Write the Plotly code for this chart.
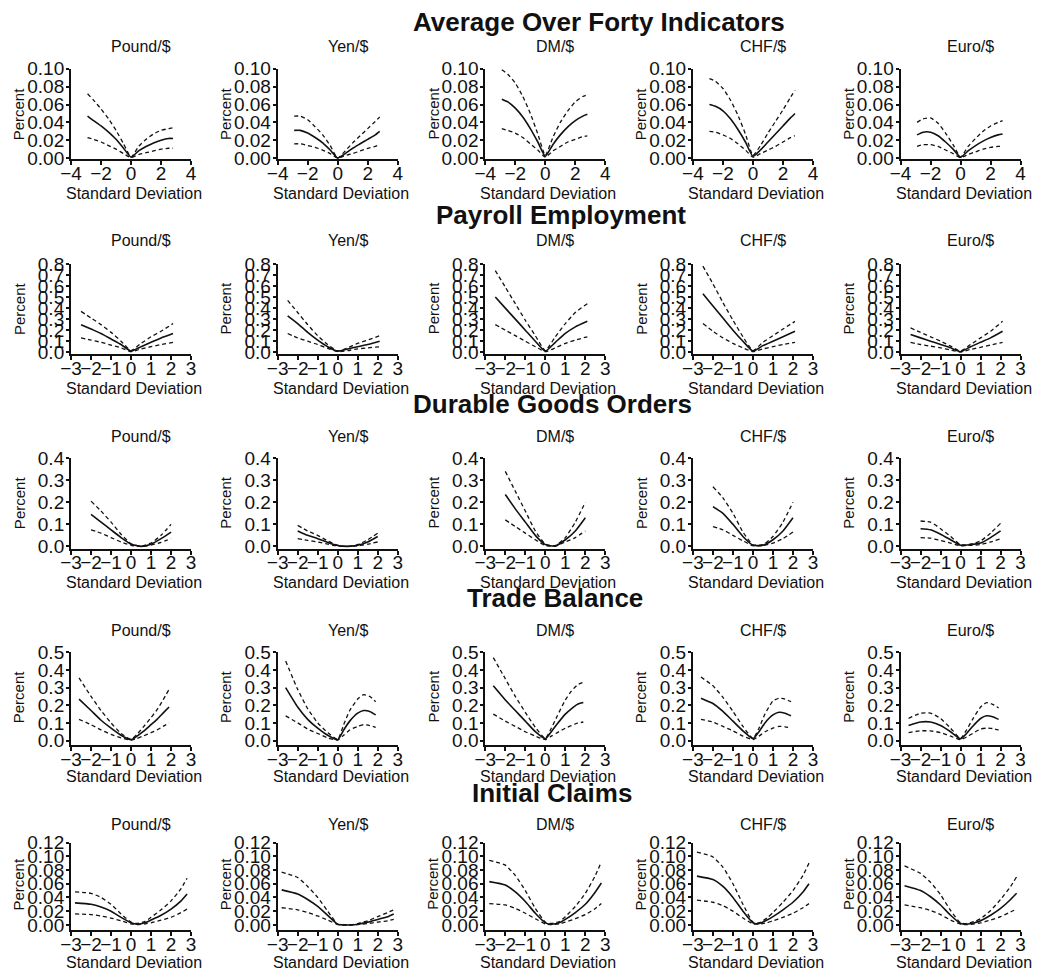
import plotly.graph_objects as go

W, H = 1064, 979

sections = ["Average Over Forty Indicators", "Payroll Employment",
            "Durable Goods Orders", "Trade Balance", "Initial Claims"]
currencies = ["Pound/$", "Yen/$", "DM/$", "CHF/$", "Euro/$"]

# ---------------- Row 1: Average Over Forty Indicators ----------------
avg_x = [-2.9, -2.5, -2, -1.5, -1, -0.5, 0, 0.5, 1, 1.5, 2, 2.5, 2.8]
avg_pound_mid = [0.047, 0.042, 0.036, 0.029, 0.021, 0.011, 0.001, 0.008, 0.013, 0.017, 0.020, 0.022, 0.022]
avg_pound_hi = [0.072, 0.065, 0.055, 0.044, 0.031, 0.016, 0.001, 0.013, 0.021, 0.027, 0.031, 0.033, 0.034]
avg_pound_lo = [0.023, 0.021, 0.018, 0.014, 0.010, 0.005, 0.0005, 0.004, 0.006, 0.008, 0.010, 0.011, 0.011]
avg_yen_mid = [0.031, 0.031, 0.028, 0.023, 0.017, 0.009, 0.0, 0.005, 0.011, 0.016, 0.021, 0.026, 0.030]
avg_yen_hi = [0.047, 0.047, 0.043, 0.035, 0.026, 0.014, 0.0, 0.008, 0.017, 0.025, 0.033, 0.041, 0.046]
avg_yen_lo = [0.016, 0.016, 0.014, 0.012, 0.009, 0.005, 0.0, 0.003, 0.005, 0.008, 0.011, 0.013, 0.015]
avg_dm_mid = [0.066, 0.063, 0.056, 0.046, 0.033, 0.018, 0.002, 0.015, 0.026, 0.035, 0.042, 0.047, 0.049]
avg_dm_hi = [0.099, 0.094, 0.084, 0.069, 0.050, 0.027, 0.003, 0.023, 0.040, 0.053, 0.063, 0.069, 0.071]
avg_dm_lo = [0.033, 0.031, 0.028, 0.023, 0.016, 0.009, 0.001, 0.008, 0.013, 0.018, 0.021, 0.024, 0.025]
avg_chf_mid = [0.060, 0.058, 0.053, 0.044, 0.032, 0.018, 0.002, 0.009, 0.018, 0.027, 0.036, 0.045, 0.050]
avg_chf_hi = [0.089, 0.086, 0.078, 0.065, 0.048, 0.027, 0.003, 0.014, 0.028, 0.041, 0.054, 0.068, 0.076]
avg_chf_lo = [0.030, 0.029, 0.026, 0.022, 0.016, 0.009, 0.001, 0.005, 0.009, 0.013, 0.018, 0.023, 0.025]
avg_euro_mid = [0.026, 0.029, 0.029, 0.025, 0.018, 0.010, 0.001, 0.008, 0.014, 0.019, 0.023, 0.026, 0.027]
avg_euro_hi = [0.040, 0.044, 0.045, 0.039, 0.028, 0.015, 0.001, 0.013, 0.022, 0.030, 0.036, 0.040, 0.042]
avg_euro_lo = [0.013, 0.015, 0.015, 0.013, 0.009, 0.005, 0.0005, 0.004, 0.007, 0.010, 0.012, 0.013, 0.013]

# ---------------- Row 2: Payroll Employment ----------------
pay_x = [-2.5, -2, -1.5, -1, -0.5, 0, 0.5, 1, 1.5, 2.1]
pay_pound_mid = [0.25, 0.21, 0.17, 0.12, 0.07, 0.01, 0.05, 0.09, 0.13, 0.17]
pay_pound_hi = [0.37, 0.31, 0.25, 0.18, 0.10, 0.015, 0.08, 0.14, 0.19, 0.26]
pay_pound_lo = [0.13, 0.11, 0.09, 0.065, 0.04, 0.005, 0.03, 0.05, 0.07, 0.09]
pay_yen_mid = [0.33, 0.26, 0.18, 0.11, 0.05, 0.01, 0.03, 0.05, 0.07, 0.10]
pay_yen_hi = [0.47, 0.36, 0.25, 0.15, 0.07, 0.01, 0.04, 0.08, 0.11, 0.15]
pay_yen_lo = [0.17, 0.13, 0.10, 0.07, 0.035, 0.005, 0.015, 0.03, 0.04, 0.05]
pay_dm_mid = [0.50, 0.40, 0.30, 0.20, 0.10, 0.01, 0.09, 0.17, 0.23, 0.28]
pay_dm_hi = [0.74, 0.59, 0.44, 0.29, 0.15, 0.015, 0.14, 0.26, 0.36, 0.44]
pay_dm_lo = [0.25, 0.20, 0.15, 0.10, 0.05, 0.005, 0.04, 0.08, 0.11, 0.14]
pay_chf_mid = [0.53, 0.42, 0.31, 0.20, 0.10, 0.01, 0.06, 0.10, 0.14, 0.19]
pay_chf_hi = [0.78, 0.62, 0.45, 0.29, 0.14, 0.015, 0.09, 0.15, 0.21, 0.28]
pay_chf_lo = [0.26, 0.19, 0.13, 0.08, 0.04, 0.005, 0.03, 0.05, 0.07, 0.09]
pay_euro_mid = [0.16, 0.13, 0.10, 0.07, 0.04, 0.005, 0.05, 0.09, 0.13, 0.19]
pay_euro_hi = [0.22, 0.18, 0.14, 0.10, 0.055, 0.01, 0.07, 0.13, 0.19, 0.28]
pay_euro_lo = [0.09, 0.07, 0.055, 0.04, 0.02, 0.003, 0.025, 0.045, 0.065, 0.09]

# ---------------- Row 3: Durable Goods Orders ----------------
dur_x = [-2, -1.5, -1, -0.5, 0, 0.5, 1, 1.5, 2]
dur_pound_mid = [0.145, 0.11, 0.075, 0.04, 0.01, 0.0, 0.01, 0.035, 0.065]
dur_pound_hi = [0.205, 0.16, 0.11, 0.055, 0.012, 0.001, 0.015, 0.05, 0.10]
dur_pound_lo = [0.075, 0.06, 0.04, 0.02, 0.005, 0.0, 0.006, 0.018, 0.035]
dur_yen_mid = [0.07, 0.05, 0.035, 0.018, 0.004, 0.0, 0.005, 0.02, 0.045]
dur_yen_hi = [0.095, 0.07, 0.05, 0.025, 0.005, 0.0, 0.008, 0.03, 0.06]
dur_yen_lo = [0.035, 0.027, 0.02, 0.01, 0.002, 0.0, 0.003, 0.01, 0.02]
dur_dm_mid = [0.235, 0.17, 0.11, 0.05, 0.008, 0.002, 0.03, 0.07, 0.13]
dur_dm_hi = [0.34, 0.25, 0.16, 0.07, 0.01, 0.003, 0.04, 0.11, 0.20]
dur_dm_lo = [0.12, 0.09, 0.06, 0.03, 0.004, 0.001, 0.02, 0.04, 0.07]
dur_chf_mid = [0.18, 0.15, 0.10, 0.045, 0.005, 0.005, 0.03, 0.07, 0.13]
dur_chf_hi = [0.27, 0.22, 0.15, 0.065, 0.007, 0.008, 0.045, 0.11, 0.20]
dur_chf_lo = [0.09, 0.075, 0.05, 0.025, 0.003, 0.003, 0.015, 0.035, 0.065]
dur_euro_mid = [0.08, 0.075, 0.055, 0.03, 0.005, 0.008, 0.015, 0.04, 0.07]
dur_euro_hi = [0.115, 0.11, 0.08, 0.045, 0.007, 0.01, 0.025, 0.06, 0.105]
dur_euro_lo = [0.04, 0.037, 0.027, 0.015, 0.003, 0.005, 0.008, 0.02, 0.035]

# ---------------- Row 4: Trade Balance ----------------
trd_x = [-2.6, -2, -1.5, -1, -0.5, 0, 0.3, 0.6, 1, 1.3, 1.6, 1.9]
trd_pound_mid = [0.235, 0.17, 0.115, 0.07, 0.03, 0.005, 0.025, 0.05, 0.09, 0.12, 0.155, 0.19]
trd_pound_hi = [0.355, 0.25, 0.17, 0.10, 0.04, 0.007, 0.035, 0.075, 0.13, 0.175, 0.23, 0.29]
trd_pound_lo = [0.12, 0.09, 0.06, 0.035, 0.015, 0.003, 0.012, 0.025, 0.045, 0.06, 0.08, 0.10]
trd_yen_mid = [0.30, 0.19, 0.12, 0.07, 0.03, 0.005, 0.06, 0.11, 0.155, 0.17, 0.165, 0.145]
trd_yen_hi = [0.45, 0.29, 0.18, 0.10, 0.045, 0.007, 0.09, 0.17, 0.235, 0.26, 0.25, 0.22]
trd_yen_lo = [0.14, 0.10, 0.065, 0.04, 0.015, 0.003, 0.03, 0.06, 0.08, 0.09, 0.085, 0.075]
trd_dm_mid = [0.31, 0.23, 0.17, 0.11, 0.05, 0.01, 0.05, 0.095, 0.15, 0.18, 0.205, 0.215]
trd_dm_hi = [0.47, 0.35, 0.25, 0.16, 0.075, 0.012, 0.07, 0.14, 0.23, 0.28, 0.315, 0.33]
trd_dm_lo = [0.15, 0.11, 0.08, 0.05, 0.025, 0.005, 0.025, 0.045, 0.07, 0.085, 0.098, 0.105]
trd_chf_mid = [0.24, 0.21, 0.165, 0.11, 0.055, 0.01, 0.05, 0.10, 0.145, 0.16, 0.155, 0.14]
trd_chf_hi = [0.36, 0.31, 0.245, 0.165, 0.08, 0.012, 0.07, 0.15, 0.225, 0.24, 0.235, 0.22]
trd_chf_lo = [0.12, 0.105, 0.08, 0.055, 0.025, 0.005, 0.025, 0.05, 0.07, 0.08, 0.078, 0.07]
trd_euro_mid = [0.085, 0.105, 0.105, 0.085, 0.05, 0.01, 0.04, 0.08, 0.125, 0.14, 0.135, 0.12]
trd_euro_hi = [0.125, 0.155, 0.155, 0.125, 0.07, 0.012, 0.06, 0.12, 0.19, 0.215, 0.205, 0.185]
trd_euro_lo = [0.045, 0.055, 0.055, 0.045, 0.025, 0.005, 0.02, 0.04, 0.065, 0.07, 0.068, 0.06]

# ---------------- Row 5: Initial Claims ----------------
clm_x = [-2.8, -2, -1.5, -1, -0.5, 0, 0.3, 0.7, 1, 1.5, 2, 2.5, 2.8]
clm_pound_mid = [0.032, 0.030, 0.026, 0.020, 0.011, 0.003, 0.001, 0.003, 0.007, 0.014, 0.023, 0.035, 0.045]
clm_pound_hi = [0.048, 0.046, 0.040, 0.030, 0.016, 0.004, 0.002, 0.005, 0.011, 0.022, 0.035, 0.053, 0.068]
clm_pound_lo = [0.016, 0.015, 0.013, 0.010, 0.006, 0.0015, 0.0005, 0.0015, 0.003, 0.007, 0.011, 0.018, 0.023]
clm_yen_mid = [0.051, 0.045, 0.037, 0.027, 0.014, 0.001, 0.0, 0.0, 0.001, 0.004, 0.008, 0.012, 0.016]
clm_yen_hi = [0.077, 0.069, 0.056, 0.040, 0.020, 0.001, 0.0, 0.0, 0.002, 0.006, 0.012, 0.018, 0.022]
clm_yen_lo = [0.025, 0.022, 0.018, 0.013, 0.007, 0.0005, 0.0, 0.0, 0.0005, 0.002, 0.004, 0.006, 0.008]
clm_dm_mid = [0.063, 0.058, 0.048, 0.034, 0.017, 0.003, 0.001, 0.003, 0.008, 0.018, 0.030, 0.048, 0.061]
clm_dm_hi = [0.094, 0.087, 0.072, 0.050, 0.024, 0.004, 0.002, 0.005, 0.012, 0.027, 0.046, 0.072, 0.092]
clm_dm_lo = [0.031, 0.029, 0.024, 0.017, 0.009, 0.0015, 0.0005, 0.0015, 0.004, 0.009, 0.015, 0.024, 0.031]
clm_chf_mid = [0.071, 0.066, 0.056, 0.040, 0.020, 0.003, 0.002, 0.007, 0.012, 0.022, 0.033, 0.048, 0.060]
clm_chf_hi = [0.106, 0.099, 0.084, 0.060, 0.030, 0.004, 0.003, 0.010, 0.018, 0.033, 0.050, 0.072, 0.090]
clm_chf_lo = [0.036, 0.033, 0.028, 0.020, 0.010, 0.0015, 0.001, 0.003, 0.006, 0.011, 0.017, 0.025, 0.031]
clm_euro_mid = [0.057, 0.050, 0.041, 0.029, 0.014, 0.002, 0.001, 0.003, 0.006, 0.014, 0.024, 0.037, 0.046]
clm_euro_hi = [0.086, 0.075, 0.062, 0.044, 0.021, 0.003, 0.002, 0.005, 0.009, 0.021, 0.037, 0.056, 0.070]
clm_euro_lo = [0.029, 0.025, 0.021, 0.015, 0.007, 0.001, 0.0005, 0.0015, 0.003, 0.007, 0.012, 0.019, 0.023]

# ---------------- Tick labels ----------------
x_ticks_wide = [-4, -2, 0, 2, 4]
x_ticks_narrow = [-3, -2, -1, 0, 1, 2, 3]
avg_yticks = [0.0, 0.02, 0.04, 0.06, 0.08, 0.10]
avg_ylabels = ["0.00", "0.02", "0.04", "0.06", "0.08", "0.10"]
pay_yticks = [0.0, 0.1, 0.2, 0.3, 0.4, 0.5, 0.6, 0.7, 0.8]
pay_ylabels = ["0.0", "0.1", "0.2", "0.3", "0.4", "0.5", "0.6", "0.7", "0.8"]
dur_yticks = [0.0, 0.1, 0.2, 0.3, 0.4]
dur_ylabels = ["0.0", "0.1", "0.2", "0.3", "0.4"]
trd_yticks = [0.0, 0.1, 0.2, 0.3, 0.4, 0.5]
trd_ylabels = ["0.0", "0.1", "0.2", "0.3", "0.4", "0.5"]
clm_yticks = [0.0, 0.02, 0.04, 0.06, 0.08, 0.10, 0.12]
clm_ylabels = ["0.00", "0.02", "0.04", "0.06", "0.08", "0.10", "0.12"]

rows = [
    dict(x=avg_x, xr=[-4, 4], xt=x_ticks_wide, ymin=-0.0015, ymax=0.10, yt=avg_yticks, yl=avg_ylabels,
         panels=[(avg_pound_mid, avg_pound_hi, avg_pound_lo), (avg_yen_mid, avg_yen_hi, avg_yen_lo),
                 (avg_dm_mid, avg_dm_hi, avg_dm_lo), (avg_chf_mid, avg_chf_hi, avg_chf_lo),
                 (avg_euro_mid, avg_euro_hi, avg_euro_lo)]),
    dict(x=pay_x, xr=[-3, 3], xt=x_ticks_narrow, ymin=-0.02, ymax=0.8, yt=pay_yticks, yl=pay_ylabels,
         panels=[(pay_pound_mid, pay_pound_hi, pay_pound_lo), (pay_yen_mid, pay_yen_hi, pay_yen_lo),
                 (pay_dm_mid, pay_dm_hi, pay_dm_lo), (pay_chf_mid, pay_chf_hi, pay_chf_lo),
                 (pay_euro_mid, pay_euro_hi, pay_euro_lo)]),
    dict(x=dur_x, xr=[-3, 3], xt=x_ticks_narrow, ymin=-0.01, ymax=0.4, yt=dur_yticks, yl=dur_ylabels,
         panels=[(dur_pound_mid, dur_pound_hi, dur_pound_lo), (dur_yen_mid, dur_yen_hi, dur_yen_lo),
                 (dur_dm_mid, dur_dm_hi, dur_dm_lo), (dur_chf_mid, dur_chf_hi, dur_chf_lo),
                 (dur_euro_mid, dur_euro_hi, dur_euro_lo)]),
    dict(x=trd_x, xr=[-3, 3], xt=x_ticks_narrow, ymin=-0.025, ymax=0.5, yt=trd_yticks, yl=trd_ylabels,
         panels=[(trd_pound_mid, trd_pound_hi, trd_pound_lo), (trd_yen_mid, trd_yen_hi, trd_yen_lo),
                 (trd_dm_mid, trd_dm_hi, trd_dm_lo), (trd_chf_mid, trd_chf_hi, trd_chf_lo),
                 (trd_euro_mid, trd_euro_hi, trd_euro_lo)]),
    dict(x=clm_x, xr=[-3, 3], xt=x_ticks_narrow, ymin=-0.008, ymax=0.12, yt=clm_yticks, yl=clm_ylabels,
         panels=[(clm_pound_mid, clm_pound_hi, clm_pound_lo), (clm_yen_mid, clm_yen_hi, clm_yen_lo),
                 (clm_dm_mid, clm_dm_hi, clm_dm_lo), (clm_chf_mid, clm_chf_hi, clm_chf_lo),
                 (clm_euro_mid, clm_euro_hi, clm_euro_lo)]),
]

# ---------------- Layout geometry (pixels) ----------------
col_left = [61, 271, 482, 693, 904]
col_w = 122
row_top = [60, 259, 457, 655, 849]      # pixel of the top tick
row_zero = [151, 349, 547, 745, 933]    # pixel of the zero tick
title_y = [12, 209, 402, 600, 799]
title_x = [598, 559, 550, 553, 550]
sub_y = [37, 235, 435, 633, 831]
sd_y = [187, 386, 584, 782, 971]

FONT = "Liberation Sans, Arial, Helvetica, sans-serif"
INK = "#111111"


def px_x(p):
    return p / W


def px_y(p):
    return 1 - p / H


fig = go.Figure()
layout = dict(
    width=W, height=H, margin=dict(l=0, r=0, t=0, b=0),
    paper_bgcolor="white", plot_bgcolor="white", showlegend=False,
    font=dict(family=FONT, color=INK),
)
annotations = []

n = 0
for r, row in enumerate(rows):
    annotations.append(dict(text="<b>%s</b>" % sections[r], xref="paper", yref="paper",
                            x=px_x(title_x[r]), y=px_y(title_y[r]), xanchor="center", yanchor="middle",
                            showarrow=False, font=dict(size=26, family=FONT, color=INK)))
    top = row_top[r]
    zero = row_zero[r]
    bot = zero + (zero - top) * (-row["ymin"] / row["ymax"])
    for c in range(5):
        n += 1
        xs = "" if n == 1 else str(n)
        mid, hi, lo = row["panels"][c]
        for ys, dash, wdt in ((hi, "4px,3px", 1.3), (mid, "solid", 1.6), (lo, "4px,3px", 1.3)):
            fig.add_trace(go.Scatter(x=row["x"], y=ys, mode="lines", xaxis="x" + xs, yaxis="y" + xs,
                                     line=dict(color=INK, width=wdt, dash=dash, shape="spline", smoothing=0.5),
                                     hoverinfo="skip"))
        x0, x1 = col_left[c], col_left[c] + col_w
        layout["xaxis" + xs] = dict(
            domain=[px_x(x0), px_x(x1)], anchor="y" + xs, range=row["xr"],
            tickmode="array", tickvals=row["xt"], ticks="outside", ticklen=4, tickwidth=1.5,
            tickcolor=INK, showline=True, linecolor=INK, linewidth=2, showgrid=False,
            zeroline=False, tickangle=0, ticklabelstandoff=-8,
            tickfont=dict(size=19, family=FONT, color=INK),
        )
        layout["yaxis" + xs] = dict(
            domain=[px_y(bot), px_y(top)], anchor="x" + xs, range=[row["ymin"], row["ymax"]],
            tickmode="array", tickvals=row["yt"], ticktext=row["yl"], ticks="outside",
            ticklen=3, tickwidth=1.5, tickcolor=INK, showline=True, linecolor=INK,
            linewidth=2, showgrid=False, zeroline=False, ticklabelstandoff=-2,
            tickfont=dict(size=19, family=FONT, color=INK),
        )
        annotations.append(dict(text=currencies[c], xref="paper", yref="paper",
                                x=px_x(x0 + col_w / 2 + 10), y=px_y(sub_y[r]), xanchor="center",
                                yanchor="middle", showarrow=False,
                                font=dict(size=16, family=FONT, color=INK)))
        annotations.append(dict(text="Standard Deviation", xref="paper", yref="paper",
                                x=px_x(x0 + col_w / 2 + 3), y=px_y(sd_y[r]), xanchor="center",
                                yanchor="middle", showarrow=False,
                                font=dict(size=16, family=FONT, color=INK)))
        annotations.append(dict(text="Percent", xref="paper", yref="paper", textangle=-90,
                                x=px_x(x0 - 53), y=px_y((top + zero) / 2), xanchor="center",
                                yanchor="middle", showarrow=False,
                                font=dict(size=15, family=FONT, color=INK)))

layout["annotations"] = annotations
fig.update_layout(**layout)
fig.write_html("out.html", post_script="document.body.style.margin='0px';",
               config={"displayModeBar": False})
